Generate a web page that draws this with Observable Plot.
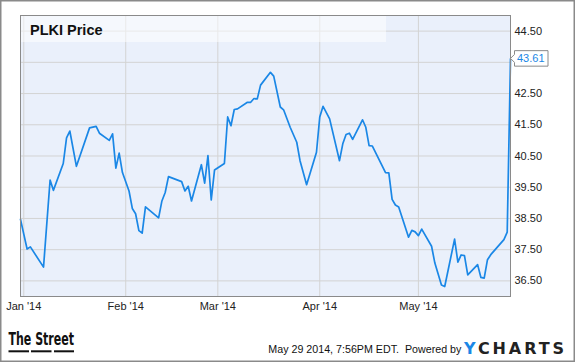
<!DOCTYPE html>
<html><head><meta charset="utf-8">
<script src="https://cdn.jsdelivr.net/npm/d3@7"></script>
<script src="https://cdn.jsdelivr.net/npm/@observablehq/plot@0.6"></script>
<style>
body{margin:0;background:#fff;}
#chart svg{display:block;}
</style></head><body><div id="chart"></div>
<script>
const dates = ["2013-12-31","2014-01-02","2014-01-03","2014-01-07","2014-01-09","2014-01-10","2014-01-13","2014-01-14","2014-01-15","2014-01-17","2014-01-21","2014-01-23","2014-01-24","2014-01-27","2014-01-28","2014-01-29","2014-01-30","2014-01-31","2014-02-02","2014-02-03","2014-02-04","2014-02-05","2014-02-06","2014-02-07","2014-02-11","2014-02-12","2014-02-13","2014-02-14","2014-02-18","2014-02-19","2014-02-20","2014-02-21","2014-02-24","2014-02-25","2014-02-26","2014-02-27","2014-02-28","2014-03-03","2014-03-04","2014-03-05","2014-03-06","2014-03-07","2014-03-10","2014-03-11","2014-03-12","2014-03-13","2014-03-14","2014-03-17","2014-03-18","2014-03-20","2014-03-21","2014-03-23","2014-03-25","2014-03-26","2014-03-28","2014-03-31","2014-04-01","2014-04-02","2014-04-04","2014-04-07","2014-04-08","2014-04-09","2014-04-10","2014-04-11","2014-04-14","2014-04-15","2014-04-16","2014-04-17","2014-04-21","2014-04-22","2014-04-23","2014-04-24","2014-04-25","2014-04-28","2014-04-29","2014-04-30","2014-05-01","2014-05-02","2014-05-05","2014-05-06","2014-05-08","2014-05-09","2014-05-12","2014-05-13","2014-05-14","2014-05-15","2014-05-16","2014-05-19","2014-05-20","2014-05-21","2014-05-22","2014-05-23","2014-05-27","2014-05-28","2014-05-29"];
const prices = [38.47,37.52,37.59,36.94,39.73,39.40,40.26,41.08,41.30,40.17,41.40,41.45,41.23,41.00,41.21,40.11,40.59,39.97,39.38,38.82,38.65,38.11,38.03,38.87,38.52,39.06,39.33,39.84,39.68,39.38,39.53,39.06,40.22,39.63,40.51,39.09,40.05,40.26,41.75,41.47,41.99,42.01,42.22,42.22,42.34,42.33,42.77,43.18,43.06,42.07,41.98,41.42,40.94,40.35,39.58,40.62,41.75,42.09,41.69,40.35,40.89,41.19,41.23,41.03,41.66,41.42,40.83,40.82,39.97,39.96,39.11,38.93,38.87,37.90,38.12,38.07,37.95,38.16,37.61,37.07,36.37,36.32,37.84,37.10,37.33,37.31,36.69,37.02,36.61,36.59,37.18,37.34,37.82,38.06,43.61];
const yGrid = [36.5,37.5,38.5,39.5,40.5,41.5,42.5,43.5,44.5];
const yTicks = [36.5,37.5,38.5,39.5,40.5,41.5,42.5,44.5];
const yTickLabels = ["36.50","37.50","38.50","39.50","40.50","41.50","42.50","44.50"];
const xTicks = ["2014-01-01","2014-02-01","2014-03-01","2014-04-01","2014-05-01"];
const xTickLabels = ["Jan '14","Feb '14","Mar '14","Apr '14","May '14"];
const titleText = "PLKI Price";
const lastLabel = "43.61";
const lastValue = 43.61;
const footerText = "May 29 2014, 7:56PM EDT.  Powered by";
const brandLeft = "The Street";
const brandY = "Y";
const brandRest = "CHARTS";

const data = dates.map((d, i) => ({date: new Date(d), price: prices[i]}));
const xTickDates = xTicks.map(d => new Date(d));

const lineColor = "#1a87e6";
const font = "'Liberation Sans', Arial, sans-serif";

const chart = Plot.plot({
  width: 575, height: 362,
  marginLeft: 20, marginRight: 65, marginTop: 15, marginBottom: 66,
  style: {fontFamily: font, fontSize: "11px", background: "#fff", color: "#222", overflow: "visible"},
  x: {type: "utc", domain: [new Date("2013-12-31"), new Date("2014-05-29")], label: null},
  y: {domain: [36, 45], label: null},
  marks: [
    Plot.frame({fill: "#eaf0fb"}),
    Plot.gridX(xTickDates, {stroke: "#d3d3d3", strokeOpacity: 1}),
    Plot.gridY(yGrid, {stroke: "#d3d3d3", strokeOpacity: 1}),
    Plot.axisX(xTickDates, {tickSize: 0, tickPadding: 6, fill: "#222", label: null,
      tickFormat: d => xTickLabels[xTickDates.findIndex(t => +t === +d)]}),
    Plot.axisY(yTicks, {anchor: "right", tickSize: 0, tickPadding: 4, fill: "#222", label: null,
      tickFormat: d => yTickLabels[yTicks.indexOf(d)]}),
    Plot.line(data, {x: "date", y: "price", stroke: lineColor, strokeWidth: 1.7}),
    Plot.frame({stroke: "#8a8a8a", strokeWidth: 1})
  ]
});
document.getElementById("chart").appendChild(chart);

const svg = d3.select(chart);
const ys = chart.scale("y");
const g = svg.append("g").attr("text-anchor", "start");

// title box
g.append("rect").attr("x", 21).attr("y", 16).attr("width", 365).attr("height", 26)
  .attr("fill", "#fff").attr("fill-opacity", 0.5);
g.append("text").attr("x", 30).attr("y", 34.5).text(titleText)
  .attr("font-family", font).attr("font-weight", "bold").attr("font-size", "14.5px").attr("fill", "#111");

// last value label
const y0 = ys.apply(lastValue);
const bx = 514.5, bw = 33.5, bh = 15.5;
g.append("path")
  .attr("d", `M510.5,${y0} L${bx},${y0-4} L${bx},${y0-bh/2} L${bx+bw},${y0-bh/2} L${bx+bw},${y0+bh/2} L${bx},${y0+bh/2} L${bx},${y0+4} Z`)
  .attr("fill", "#fff").attr("stroke", "#8a8a8a").attr("stroke-width", 1);
g.append("text").attr("x", 517).attr("y", y0 + 4).text(lastLabel)
  .attr("font-family", font).attr("font-size", "11px").attr("fill", lineColor);

// footer: The Street logo
g.append("text").attr("x", 8.5).attr("y", 344.7).text(brandLeft)
  .attr("font-family", "'Liberation Sans Narrow', 'DejaVu Sans Condensed', sans-serif")
  .attr("font-weight", "bold").attr("font-size", "17.5px").attr("fill", "#111")
  .attr("textLength", 65.5).attr("lengthAdjust", "spacingAndGlyphs");
[[8.5, 20.5], [31, 20.5], [54, 20]].forEach(([x, w]) => {
  g.append("rect").attr("x", x).attr("y", 350.3).attr("width", w).attr("height", 2).attr("fill", "#111");
});

// footer text
g.append("text").attr("x", 268.3).attr("y", 352.5).text(footerText)
  .attr("font-family", font).attr("font-size", "10.7px").attr("fill", "#111")
  .style("white-space", "pre");

// YCHARTS logo
const yc = g.append("text").attr("x", 464).attr("y", 353.5)
  .attr("font-family", "'DejaVu Sans', sans-serif").attr("font-weight", "bold").attr("font-size", "16px")
  .attr("textLength", 100).attr("lengthAdjust", "spacing");
yc.append("tspan").attr("fill", lineColor).text(brandY);
yc.append("tspan").attr("fill", "#222").text(brandRest);

// outer border
g.append("rect").attr("x", 0.75).attr("y", 0.75).attr("width", 573.5).attr("height", 360.5)
  .attr("fill", "none").attr("stroke", "#8a8a8a").attr("stroke-width", 1.5);
</script>
</body></html>
